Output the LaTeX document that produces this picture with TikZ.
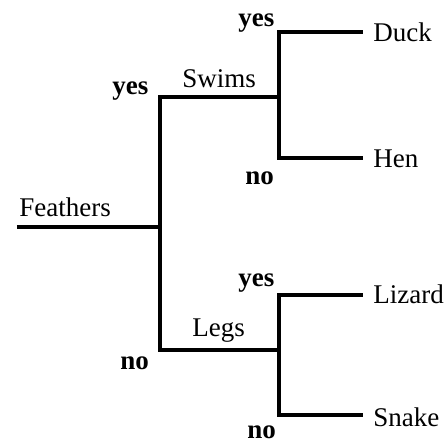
\documentclass[tikz,border=0pt]{standalone}
\usepackage{fontspec}
\setmainfont{Liberation Serif}

\begin{document}
\begin{tikzpicture}[x=0.5pt,y=-0.5pt,line width=2.4pt,
    lbl/.style={inner sep=0pt,anchor=base west,font=\fontsize{13.5pt}{16pt}\selectfont},
    ans/.style={lbl,font=\fontsize{13.5pt}{16pt}\selectfont\bfseries}]
        \useasboundingbox (0,0) rectangle (446,444);

        % branch points
        \coordinate (start) at (17,227);
        \coordinate (feathers) at (160,227);
        \coordinate (swims) at (160,97);
        \coordinate (legs) at (160,350);
        \coordinate (swimsend) at (279,97);
        \coordinate (legsend) at (279,350);
        \coordinate (duckfork) at (279,32);
        \coordinate (henfork) at (279,158);
        \coordinate (lizardfork) at (279,295);
        \coordinate (snakefork) at (279,415);
        \coordinate (duck) at (363,32);
        \coordinate (hen) at (363,158);
        \coordinate (lizard) at (363,295);
        \coordinate (snake) at (363,415);

        \draw (start) -- (feathers);
        \draw (swimsend) -- (swims) -- (legs) -- (legsend);
        \draw (duck) -- (duckfork) -- (henfork) -- (hen);
        \draw (lizard) -- (lizardfork) -- (snakefork) -- (snake);

        % questions
        \node[lbl] (featherslbl) at (17,217) {Feathers};
        \node[lbl] (swimslbl) at (180,88) {Swims};
        \node[lbl] (legslbl) at (190,337) {Legs};

        % answers
        \node[ans] (yes1) at (110,95) {yes};
        \node[ans] (no1) at (118,370) {no};
        \node[ans] (yes2) at (236,27) {yes};
        \node[ans] (no2) at (243,185) {no};
        \node[ans] (yes3) at (236,287) {yes};
        \node[ans] (no3) at (245,439) {no};

        % leaves
        \node[lbl] (ducklbl) at (371,42) {Duck};
        \node[lbl] (henlbl) at (371,168) {Hen};
        \node[lbl] (lizardlbl) at (371,304) {Lizard};
        \node[lbl] (snakelbl) at (371,427) {Snake};
\end{tikzpicture}
\end{document}
